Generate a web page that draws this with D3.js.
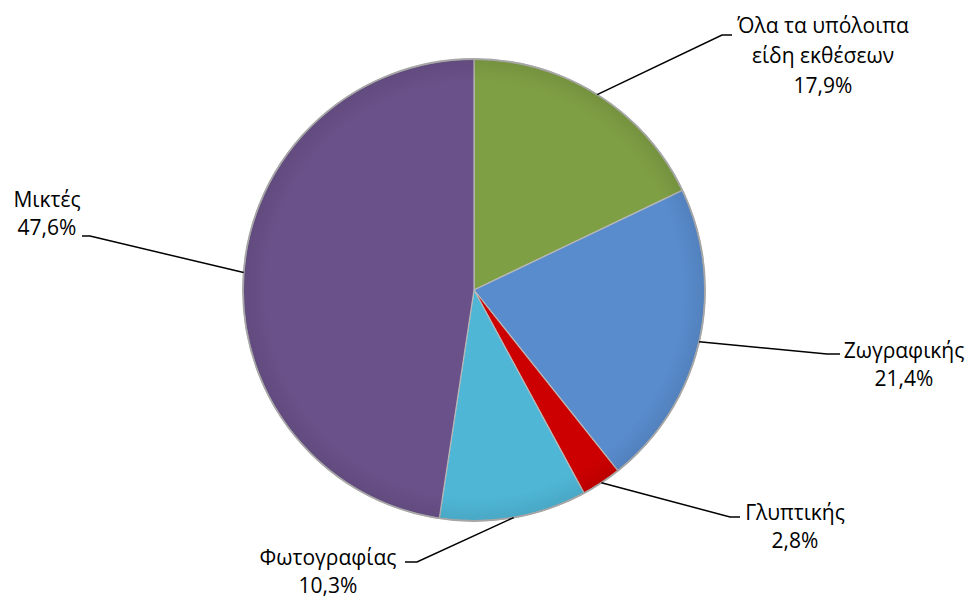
<!DOCTYPE html>
<html><head><meta charset="utf-8">
<script src="https://cdn.jsdelivr.net/npm/d3@7/dist/d3.min.js"></script>
<style>body{margin:0;background:#fff}svg{display:block}</style>
</head><body>
<script>
const categories = ["Όλα τα υπόλοιπα είδη εκθέσεων", "Ζωγραφικής", "Γλυπτικής", "Φωτογραφίας", "Μικτές"];
const values = [17.9, 21.4, 2.8, 10.3, 47.6];
const labelLines = [["Όλα τα υπόλοιπα", "είδη εκθέσεων", "17,9%"], ["Ζωγραφικής", "21,4%"], ["Γλυπτικής", "2,8%"], ["Φωτογραφίας", "10,3%"], ["Μικτές", "47,6%"]];
const colors = ["#7F9F44", "#598CCD", "#CC0000", "#4FB6D6", "#6A5189"];

// layout for labels: text center x, first baseline y, line gap, elbow point, end of horizontal tail
const labelLayout = [
  {x: 823, y: 33, gap: 30, elbow: [722, 35], tail: 732},
  {x: 904, y: 358, gap: 28, elbow: [827, 354], tail: 840},
  {x: 795, y: 520, gap: 28, elbow: [730, 517], tail: 740},
  {x: 328, y: 565, gap: 28, elbow: [417, 562], tail: 405},
  {x: 47, y: 207, gap: 28, elbow: [90, 236], tail: 82}
];

const W = 973, H = 600, cx = 474, cy = 290, R = 231;
const svg = d3.select("body").append("svg").attr("width", W).attr("height", H);

const defs = svg.append("defs");
const grad = defs.append("radialGradient").attr("id", "shade").attr("cx", "50%").attr("cy", "50%").attr("r", "50%");
grad.append("stop").attr("offset", "0.9").attr("stop-color", "#000").attr("stop-opacity", 0);
grad.append("stop").attr("offset", "1").attr("stop-color", "#000").attr("stop-opacity", 0.08);

const pie = d3.pie().sort(null).value(d => d);
const arcs = pie(values);
const arc = d3.arc().innerRadius(0).outerRadius(R);

const g = svg.append("g").attr("transform", `translate(${cx},${cy})`);
g.selectAll("path.slice").data(arcs).join("path")
  .attr("class", "slice")
  .attr("d", arc)
  .attr("fill", (d, i) => colors[i])
  .attr("stroke", "#b8b8b8")
  .attr("stroke-width", 1.2)
  .attr("stroke-linejoin", "round");
g.append("circle").attr("r", R).attr("fill", "url(#shade)");
g.append("circle").attr("r", R).attr("fill", "none").attr("stroke", "#a6a6a6").attr("stroke-width", 1.8);

// leader lines and labels
arcs.forEach((d, i) => {
  const a = (d.startAngle + d.endAngle) / 2;
  const p0 = [cx + R * Math.sin(a), cy - R * Math.cos(a)];
  const L = labelLayout[i];
  svg.append("polyline")
    .attr("points", [p0, L.elbow, [L.tail, L.elbow[1]]].map(p => p.join(",")).join(" "))
    .attr("fill", "none").attr("stroke", "#000").attr("stroke-width", 1.5);
  const t = svg.append("text")
    .attr("x", L.x).attr("y", L.y)
    .attr("text-anchor", "middle")
    .attr("font-family", "'Open Sans', 'Noto Sans', sans-serif")
    .attr("font-size", 21)
    .attr("fill", "#000");
  labelLines[i].forEach((s, j) => {
    t.append("tspan").attr("x", L.x).attr("dy", j === 0 ? 0 : L.gap).text(s);
  });
});
</script>
</body></html>
